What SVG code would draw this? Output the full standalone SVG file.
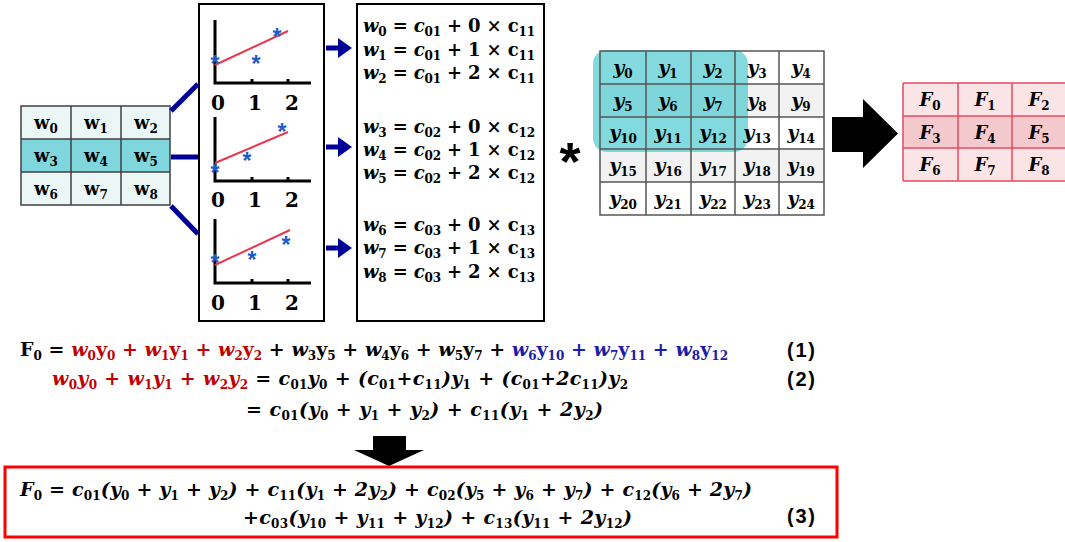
<svg xmlns="http://www.w3.org/2000/svg" width="1065" height="542" viewBox="0 0 1065 542">
<style>
.m{font-family:"DejaVu Serif",serif;font-weight:bold;font-size:18px;fill:#000}
.b{font-size:19px}
.g{font-family:"DejaVu Serif",serif;font-weight:bold;font-size:18px;fill:#000;text-anchor:middle}
.gy{font-size:19px}
.i{font-style:italic}
.s{font-size:12px;font-style:normal}
.num{font-family:"Liberation Sans",sans-serif;font-weight:bold;font-size:20px;fill:#000}
.ax{fill:none;stroke:#000;stroke-width:3}
.fit{stroke:#e8384f;stroke-width:2;fill:none}
.st{font-family:"Liberation Sans",sans-serif;font-weight:bold;font-size:23px;fill:#1a5cc8;text-anchor:middle}
.lbl{font-family:"DejaVu Serif",serif;font-weight:bold;font-size:20px;fill:#000;text-anchor:middle}
.con{stroke:#000099;stroke-width:5;fill:none}
.red{fill:#c00000}
.blue{fill:#1c1ca8}
</style>
<defs>
<marker id="ah" markerWidth="4" markerHeight="4" refX="0" refY="2" orient="auto" markerUnits="strokeWidth"><path d="M0,0 L2.8,2 L0,4 Z" fill="#000099"/></marker>
</defs>

<g id="w-grid">
<rect x="21" y="106" width="149" height="33" fill="#ebf7f7"/>
<rect x="21" y="139" width="149" height="33" fill="#7fd6dc"/>
<rect x="21" y="172" width="149" height="33" fill="#ebf7f7"/>
<path d="M21,106 H170 V205 H21 Z M71,106 V205 M121,106 V205 M21,139 H170 M21,172 H170" fill="none" stroke="#404040" stroke-width="1.5"/>
<text class="g" x="46" y="129">w<tspan class="s" dy="4">0</tspan></text>
<text class="g" x="96" y="129">w<tspan class="s" dy="4">1</tspan></text>
<text class="g" x="146" y="129">w<tspan class="s" dy="4">2</tspan></text>
<text class="g" x="46" y="162">w<tspan class="s" dy="4">3</tspan></text>
<text class="g" x="96" y="162">w<tspan class="s" dy="4">4</tspan></text>
<text class="g" x="146" y="162">w<tspan class="s" dy="4">5</tspan></text>
<text class="g" x="46" y="195">w<tspan class="s" dy="4">6</tspan></text>
<text class="g" x="96" y="195">w<tspan class="s" dy="4">7</tspan></text>
<text class="g" x="146" y="195">w<tspan class="s" dy="4">8</tspan></text>
</g>

<g id="charts">
<rect x="199" y="4" width="125" height="317" fill="#fff" stroke="#000" stroke-width="2"/>
<path class="ax" d="M215,20 V83 H311 M252,83 V79 M288,83 V79"/>
<line class="fit" x1="215" y1="65" x2="288" y2="31"/>
<text class="st" x="215" y="72">*</text>
<text class="st" x="256" y="72">*</text>
<text class="st" x="277" y="45">*</text>
<text class="lbl" x="218" y="110">0</text><text class="lbl" x="255" y="110">1</text><text class="lbl" x="292" y="110">2</text>

<path class="ax" d="M215,117 V181 H311 M252,181 V177 M288,181 V177"/>
<line class="fit" x1="215" y1="163" x2="288" y2="132"/>
<text class="st" x="215" y="181">*</text>
<text class="st" x="247" y="169">*</text>
<text class="st" x="282" y="140">*</text>
<text class="lbl" x="218" y="207">0</text><text class="lbl" x="255" y="207">1</text><text class="lbl" x="292" y="207">2</text>

<path class="ax" d="M215,219 V283 H311 M252,283 V279 M288,283 V279"/>
<line class="fit" x1="215" y1="265" x2="290" y2="230"/>
<text class="st" x="215" y="271">*</text>
<text class="st" x="252" y="268">*</text>
<text class="st" x="286" y="253">*</text>
<text class="lbl" x="218" y="310">0</text><text class="lbl" x="255" y="310">1</text><text class="lbl" x="292" y="310">2</text>
</g>

<g id="equations">
<rect x="357" y="4" width="187" height="317" fill="#fff" stroke="#000" stroke-width="2"/>
<text class="m" x="363" y="32" textLength="172"><tspan class="i">w</tspan><tspan class="s" dy="4">0</tspan><tspan dy="-4"> = </tspan><tspan class="i">c</tspan><tspan class="s" dy="4">01</tspan><tspan dy="-4"> + 0 × c</tspan><tspan class="s" dy="4">11</tspan></text>
<text class="m" x="363" y="56" textLength="172"><tspan class="i">w</tspan><tspan class="s" dy="4">1</tspan><tspan dy="-4"> = </tspan><tspan class="i">c</tspan><tspan class="s" dy="4">01</tspan><tspan dy="-4"> + 1 × c</tspan><tspan class="s" dy="4">11</tspan></text>
<text class="m" x="363" y="79" textLength="172"><tspan class="i">w</tspan><tspan class="s" dy="4">2</tspan><tspan dy="-4"> = </tspan><tspan class="i">c</tspan><tspan class="s" dy="4">01</tspan><tspan dy="-4"> + 2 × c</tspan><tspan class="s" dy="4">11</tspan></text>
<text class="m" x="363" y="133" textLength="172"><tspan class="i">w</tspan><tspan class="s" dy="4">3</tspan><tspan dy="-4"> = </tspan><tspan class="i">c</tspan><tspan class="s" dy="4">02</tspan><tspan dy="-4"> + 0 × c</tspan><tspan class="s" dy="4">12</tspan></text>
<text class="m" x="363" y="156" textLength="172"><tspan class="i">w</tspan><tspan class="s" dy="4">4</tspan><tspan dy="-4"> = </tspan><tspan class="i">c</tspan><tspan class="s" dy="4">02</tspan><tspan dy="-4"> + 1 × c</tspan><tspan class="s" dy="4">12</tspan></text>
<text class="m" x="363" y="179" textLength="172"><tspan class="i">w</tspan><tspan class="s" dy="4">5</tspan><tspan dy="-4"> = </tspan><tspan class="i">c</tspan><tspan class="s" dy="4">02</tspan><tspan dy="-4"> + 2 × c</tspan><tspan class="s" dy="4">12</tspan></text>
<text class="m" x="363" y="231" textLength="172"><tspan class="i">w</tspan><tspan class="s" dy="4">6</tspan><tspan dy="-4"> = </tspan><tspan class="i">c</tspan><tspan class="s" dy="4">03</tspan><tspan dy="-4"> + 0 × c</tspan><tspan class="s" dy="4">13</tspan></text>
<text class="m" x="363" y="254" textLength="172"><tspan class="i">w</tspan><tspan class="s" dy="4">7</tspan><tspan dy="-4"> = </tspan><tspan class="i">c</tspan><tspan class="s" dy="4">03</tspan><tspan dy="-4"> + 1 × c</tspan><tspan class="s" dy="4">13</tspan></text>
<text class="m" x="363" y="278" textLength="172"><tspan class="i">w</tspan><tspan class="s" dy="4">8</tspan><tspan dy="-4"> = </tspan><tspan class="i">c</tspan><tspan class="s" dy="4">03</tspan><tspan dy="-4"> + 2 × c</tspan><tspan class="s" dy="4">13</tspan></text>
</g>

<g id="connectors">
<line class="con" x1="171" y1="111" x2="198" y2="84"/>
<line class="con" x1="171" y1="157" x2="198" y2="157"/>
<line class="con" x1="171" y1="206" x2="198" y2="234"/>
<line class="con" x1="326" y1="48" x2="338" y2="48" marker-end="url(#ah)"/>
<line class="con" x1="326" y1="147" x2="338" y2="147" marker-end="url(#ah)"/>
<line class="con" x1="326" y1="248" x2="338" y2="248" marker-end="url(#ah)"/>
<polygon points="832,117 863,117 863,99 898,133.5 863,168 863,152 832,152" fill="#000"/>
<polygon points="373,436 406,436 406,450 424,450 389,466 354,450 373,450" fill="#000"/>
</g>

<g id="conv-star">
<text x="570" y="180" font-family="Liberation Sans, sans-serif" font-weight="bold" font-size="54" text-anchor="middle">*</text>
</g>

<g id="y-grid">
<rect x="600" y="51" width="224" height="164" fill="#fff"/>
<rect x="600" y="84" width="224" height="33" fill="#f2f2f2"/>
<rect x="600" y="149" width="224" height="33" fill="#f2f2f2"/>
<rect x="593" y="50" width="155" height="102" rx="14" fill="#4dc9d0" opacity="0.7"/>
<path d="M600,51 H824 V215 H600 Z M646,51 V215 M691,51 V215 M735,51 V215 M779,51 V215 M600,84 H824 M600,117 H824 M600,149 H824 M600,182 H824" fill="none" stroke="#555" stroke-width="1.5"/>
<text class="g gy i" x="623" y="74">y<tspan class="s" dy="4">0</tspan></text>
<text class="g gy i" x="668" y="74">y<tspan class="s" dy="4">1</tspan></text>
<text class="g gy i" x="713" y="74">y<tspan class="s" dy="4">2</tspan></text>
<text class="g gy i" x="757" y="74">y<tspan class="s" dy="4">3</tspan></text>
<text class="g gy i" x="801" y="74">y<tspan class="s" dy="4">4</tspan></text>
<text class="g gy i" x="623" y="107">y<tspan class="s" dy="4">5</tspan></text>
<text class="g gy i" x="668" y="107">y<tspan class="s" dy="4">6</tspan></text>
<text class="g gy i" x="713" y="107">y<tspan class="s" dy="4">7</tspan></text>
<text class="g gy i" x="757" y="107">y<tspan class="s" dy="4">8</tspan></text>
<text class="g gy i" x="801" y="107">y<tspan class="s" dy="4">9</tspan></text>
<text class="g gy i" x="623" y="139">y<tspan class="s" dy="4">10</tspan></text>
<text class="g gy i" x="668" y="139">y<tspan class="s" dy="4">11</tspan></text>
<text class="g gy i" x="713" y="139">y<tspan class="s" dy="4">12</tspan></text>
<text class="g gy i" x="757" y="139">y<tspan class="s" dy="4">13</tspan></text>
<text class="g gy i" x="801" y="139">y<tspan class="s" dy="4">14</tspan></text>
<text class="g gy i" x="623" y="172">y<tspan class="s" dy="4">15</tspan></text>
<text class="g gy i" x="668" y="172">y<tspan class="s" dy="4">16</tspan></text>
<text class="g gy i" x="713" y="172">y<tspan class="s" dy="4">17</tspan></text>
<text class="g gy i" x="757" y="172">y<tspan class="s" dy="4">18</tspan></text>
<text class="g gy i" x="801" y="172">y<tspan class="s" dy="4">19</tspan></text>
<text class="g gy i" x="623" y="205">y<tspan class="s" dy="4">20</tspan></text>
<text class="g gy i" x="668" y="205">y<tspan class="s" dy="4">21</tspan></text>
<text class="g gy i" x="713" y="205">y<tspan class="s" dy="4">22</tspan></text>
<text class="g gy i" x="757" y="205">y<tspan class="s" dy="4">23</tspan></text>
<text class="g gy i" x="801" y="205">y<tspan class="s" dy="4">24</tspan></text>
</g>

<g id="f-grid">
<rect x="903" y="83" width="163" height="98" fill="#fbe4e6"/>
<rect x="903" y="116" width="163" height="32" fill="#f4c9cd"/>
<path d="M903,83 H1066 M903,181 H1066 M903,83 V181 M958,83 V181 M1012,83 V181 M903,116 H1066 M903,148 H1066" fill="none" stroke="#e84a5f" stroke-width="1.5"/>
<text class="g i" x="930" y="106">F<tspan class="s" dy="4">0</tspan></text>
<text class="g i" x="985" y="106">F<tspan class="s" dy="4">1</tspan></text>
<text class="g i" x="1039" y="106">F<tspan class="s" dy="4">2</tspan></text>
<text class="g i" x="930" y="139">F<tspan class="s" dy="4">3</tspan></text>
<text class="g i" x="985" y="139">F<tspan class="s" dy="4">4</tspan></text>
<text class="g i" x="1039" y="139">F<tspan class="s" dy="4">5</tspan></text>
<text class="g i" x="930" y="171">F<tspan class="s" dy="4">6</tspan></text>
<text class="g i" x="985" y="171">F<tspan class="s" dy="4">7</tspan></text>
<text class="g i" x="1039" y="171">F<tspan class="s" dy="4">8</tspan></text>
</g>

<g id="formula-1">
<text class="m b" x="20" y="356" textLength="708">F<tspan class="s" dy="4">0</tspan><tspan dy="-4"> = </tspan><tspan class="red"><tspan class="i">w</tspan><tspan class="s" dy="4">0</tspan><tspan dy="-4">y</tspan><tspan class="s" dy="4">0</tspan><tspan dy="-4"> + </tspan><tspan class="i">w</tspan><tspan class="s" dy="4">1</tspan><tspan dy="-4">y</tspan><tspan class="s" dy="4">1</tspan><tspan dy="-4"> + </tspan><tspan class="i">w</tspan><tspan class="s" dy="4">2</tspan><tspan dy="-4">y</tspan><tspan class="s" dy="4">2</tspan></tspan><tspan dy="-4"> + </tspan><tspan class="i">w</tspan><tspan class="s" dy="4">3</tspan><tspan dy="-4">y</tspan><tspan class="s" dy="4">5</tspan><tspan dy="-4"> + </tspan><tspan class="i">w</tspan><tspan class="s" dy="4">4</tspan><tspan dy="-4">y</tspan><tspan class="s" dy="4">6</tspan><tspan dy="-4"> + </tspan><tspan class="i">w</tspan><tspan class="s" dy="4">5</tspan><tspan dy="-4">y</tspan><tspan class="s" dy="4">7</tspan><tspan dy="-4"> + </tspan><tspan class="blue"><tspan class="i">w</tspan><tspan class="s" dy="4">6</tspan><tspan dy="-4">y</tspan><tspan class="s" dy="4">10</tspan><tspan dy="-4"> + </tspan><tspan class="i">w</tspan><tspan class="s" dy="4">7</tspan><tspan dy="-4">y</tspan><tspan class="s" dy="4">11</tspan><tspan dy="-4"> + </tspan><tspan class="i">w</tspan><tspan class="s" dy="4">8</tspan><tspan dy="-4">y</tspan><tspan class="s" dy="4">12</tspan></tspan></text>
<text class="num" x="787" y="357" textLength="28">(1)</text>
</g>

<g id="formula-2">
<text class="m b i" x="52" y="385" textLength="576"><tspan class="red">w<tspan class="s" dy="4">0</tspan><tspan dy="-4">y</tspan><tspan class="s" dy="4">0</tspan><tspan dy="-4"> + w</tspan><tspan class="s" dy="4">1</tspan><tspan dy="-4">y</tspan><tspan class="s" dy="4">1</tspan><tspan dy="-4"> + w</tspan><tspan class="s" dy="4">2</tspan><tspan dy="-4">y</tspan><tspan class="s" dy="4">2</tspan></tspan><tspan dy="-4"> = c</tspan><tspan class="s" dy="4">01</tspan><tspan dy="-4">y</tspan><tspan class="s" dy="4">0</tspan><tspan dy="-4"> + (c</tspan><tspan class="s" dy="4">01</tspan><tspan dy="-4">+c</tspan><tspan class="s" dy="4">11</tspan><tspan dy="-4">)y</tspan><tspan class="s" dy="4">1</tspan><tspan dy="-4"> + (c</tspan><tspan class="s" dy="4">01</tspan><tspan dy="-4">+2c</tspan><tspan class="s" dy="4">11</tspan><tspan dy="-4">)y</tspan><tspan class="s" dy="4">2</tspan></text>
<text class="num" x="787" y="386" textLength="28">(2)</text>
<text class="m b i" x="246" y="416" textLength="357">= c<tspan class="s" dy="4">01</tspan><tspan dy="-4">(y</tspan><tspan class="s" dy="4">0</tspan><tspan dy="-4"> + y</tspan><tspan class="s" dy="4">1</tspan><tspan dy="-4"> + y</tspan><tspan class="s" dy="4">2</tspan><tspan dy="-4">) + c</tspan><tspan class="s" dy="4">11</tspan><tspan dy="-4">(y</tspan><tspan class="s" dy="4">1</tspan><tspan dy="-4"> + 2y</tspan><tspan class="s" dy="4">2</tspan><tspan dy="-4">)</tspan></text>
</g>

<g id="formula-3">
<rect x="5" y="467" width="832" height="70" fill="none" stroke="#ff0000" stroke-width="3"/>
<text class="m b i" x="20" y="496" textLength="732">F<tspan class="s" dy="4">0</tspan><tspan dy="-4"> = c</tspan><tspan class="s" dy="4">01</tspan><tspan dy="-4">(y</tspan><tspan class="s" dy="4">0</tspan><tspan dy="-4"> + y</tspan><tspan class="s" dy="4">1</tspan><tspan dy="-4"> + y</tspan><tspan class="s" dy="4">2</tspan><tspan dy="-4">) + c</tspan><tspan class="s" dy="4">11</tspan><tspan dy="-4">(y</tspan><tspan class="s" dy="4">1</tspan><tspan dy="-4"> + 2y</tspan><tspan class="s" dy="4">2</tspan><tspan dy="-4">) + c</tspan><tspan class="s" dy="4">02</tspan><tspan dy="-4">(y</tspan><tspan class="s" dy="4">5</tspan><tspan dy="-4"> + y</tspan><tspan class="s" dy="4">6</tspan><tspan dy="-4"> + y</tspan><tspan class="s" dy="4">7</tspan><tspan dy="-4">) + c</tspan><tspan class="s" dy="4">12</tspan><tspan dy="-4">(y</tspan><tspan class="s" dy="4">6</tspan><tspan dy="-4"> + 2y</tspan><tspan class="s" dy="4">7</tspan><tspan dy="-4">)</tspan></text>
<text class="m b i" x="243" y="524" textLength="389">+c<tspan class="s" dy="4">03</tspan><tspan dy="-4">(y</tspan><tspan class="s" dy="4">10</tspan><tspan dy="-4"> + y</tspan><tspan class="s" dy="4">11</tspan><tspan dy="-4"> + y</tspan><tspan class="s" dy="4">12</tspan><tspan dy="-4">) + c</tspan><tspan class="s" dy="4">13</tspan><tspan dy="-4">(y</tspan><tspan class="s" dy="4">11</tspan><tspan dy="-4"> + 2y</tspan><tspan class="s" dy="4">12</tspan><tspan dy="-4">)</tspan></text>
<text class="num" x="787" y="523" textLength="28">(3)</text>
</g>
</svg>
